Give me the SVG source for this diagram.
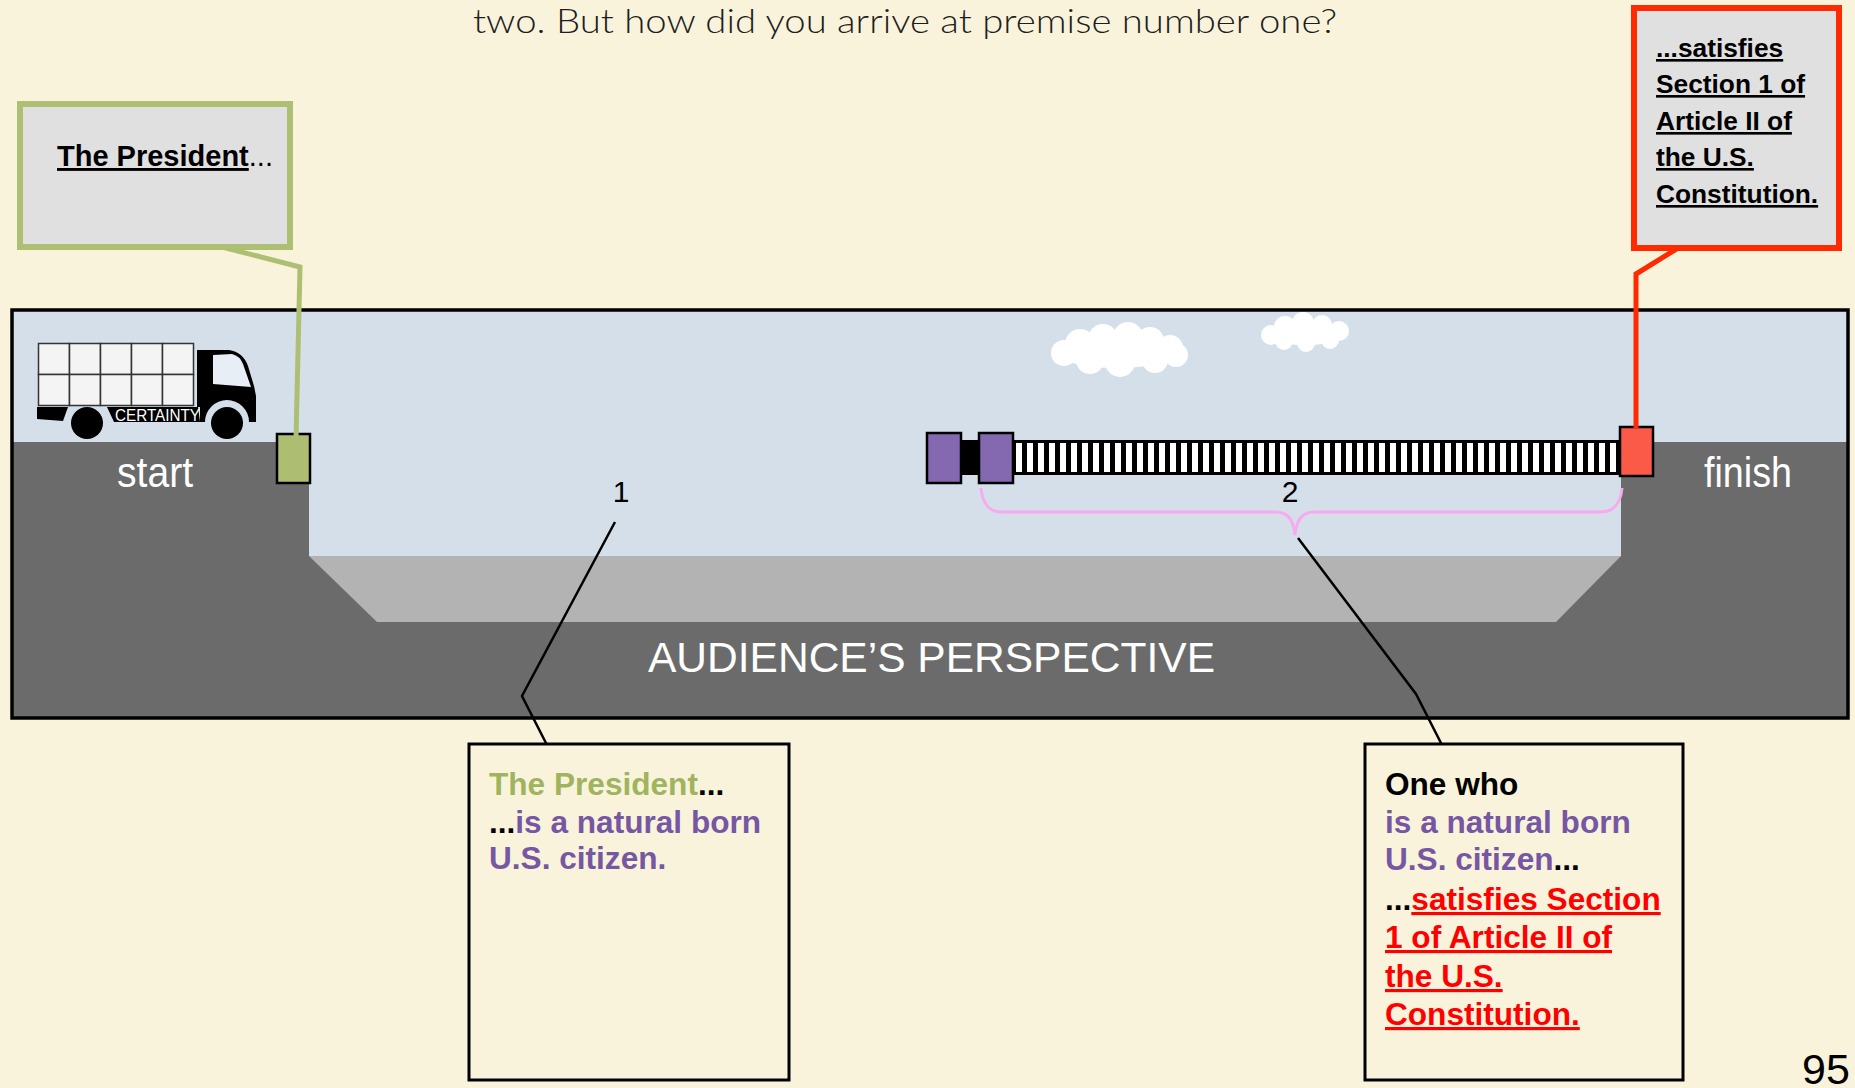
<svg xmlns="http://www.w3.org/2000/svg" width="1855" height="1088" viewBox="0 0 1855 1088">
  <defs>
    <style>
      .sans { font-family: "Liberation Sans", Arial, sans-serif; }
      .bold { font-family: "Liberation Sans", Arial, sans-serif; font-weight: bold; }
      .ul { text-decoration: underline; }
      .purple { fill: #7657a3; }
      .green { fill: #9fb45e; }
      .red { fill: #ff0000; }
      .blk { fill: #000; }
      .white { fill: #fff; }
      .conn { fill: none; stroke: #000; stroke-width: 2.5; stroke-linejoin: miter; }
      .box { fill: #faf3dc; stroke: #000; stroke-width: 3; }
      .callout { fill: #e0e0e0; stroke-width: 6; }
    </style>
    <pattern id="stripes" x="1016" y="0" width="11" height="1088" patternUnits="userSpaceOnUse">
      <rect x="0" y="0" width="6" height="1088" fill="#fff"/>
    </pattern>
  </defs>

  <!-- page -->
  <rect x="0" y="0" width="1855" height="1088" fill="#faf3dc"/>

  <!-- heading line -->
  <g id="title">
    <text x="473" y="33" font-family="Lato, 'Open Sans', sans-serif" font-weight="300" font-size="34" fill="#1e1e1e" textLength="864" lengthAdjust="spacingAndGlyphs">two. But how did you arrive at premise number one?</text>
  </g>

  <!-- landscape: sky, platforms, pit -->
  <g id="scene">
    <rect x="12" y="310" width="1836" height="408" fill="#d5dfea"/>
    <rect x="12" y="442" width="1836" height="276" fill="#6b6b6b"/>
    <rect x="309" y="440" width="1312" height="116" fill="#d5dfea"/>
    <polygon points="309,556 1621,556 1556,622 377,622" fill="#b3b3b3"/>
    <rect x="12" y="310" width="1836" height="408" fill="none" stroke="#000" stroke-width="3.5"/>
    <text class="sans white" x="117" y="487" font-size="42" textLength="76" lengthAdjust="spacingAndGlyphs">start</text>
    <text class="sans white" x="1704" y="487" font-size="42" textLength="88" lengthAdjust="spacingAndGlyphs">finish</text>
    <text class="sans white" x="648" y="672" font-size="42" textLength="567" lengthAdjust="spacingAndGlyphs">AUDIENCE’S PERSPECTIVE</text>
  </g>

  <!-- clouds -->
  <g id="clouds" fill="#fff">
    <ellipse cx="1117" cy="352" rx="62" ry="16"/>
    <circle cx="1064" cy="353" r="13"/>
    <circle cx="1080" cy="344" r="15"/>
    <circle cx="1103" cy="339" r="15"/>
    <circle cx="1128" cy="337" r="15"/>
    <circle cx="1150" cy="341" r="14"/>
    <circle cx="1170" cy="348" r="13"/>
    <circle cx="1176" cy="355" r="12"/>
    <circle cx="1155" cy="360" r="13"/>
    <circle cx="1120" cy="362" r="15"/>
    <circle cx="1090" cy="360" r="14"/>
    <ellipse cx="1305" cy="334" rx="40" ry="11"/>
    <circle cx="1271" cy="335" r="10"/>
    <circle cx="1285" cy="327" r="11"/>
    <circle cx="1303" cy="323" r="11"/>
    <circle cx="1322" cy="325" r="10"/>
    <circle cx="1339" cy="331" r="10"/>
    <circle cx="1330" cy="340" r="9"/>
    <circle cx="1306" cy="343" r="9"/>
    <circle cx="1284" cy="341" r="9"/>
  </g>

  <!-- certainty truck -->
  <g id="truck">
    <g fill="#f4f4f4" stroke="#333" stroke-width="1.5">
      <rect x="38.5" y="343.5" width="31" height="31"/>
      <rect x="69.5" y="343.5" width="31" height="31"/>
      <rect x="100.5" y="343.5" width="31" height="31"/>
      <rect x="131.5" y="343.5" width="31" height="31"/>
      <rect x="162.5" y="343.5" width="31" height="31"/>
      <rect x="38.5" y="374.5" width="31" height="31"/>
      <rect x="69.5" y="374.5" width="31" height="31"/>
      <rect x="100.5" y="374.5" width="31" height="31"/>
      <rect x="131.5" y="374.5" width="31" height="31"/>
      <rect x="162.5" y="374.5" width="31" height="31"/>
    </g>
    <path d="M37,407 L68,407 L63,421 L37,419 Z" fill="#000"/>
    <path d="M107,407 L198,407 L200,422 L114,422 Z" fill="#000"/>
    <path d="M197,350 L229,350 Q243,352 248,366 L254,386 L256,396 L256,422 L249,422 A22,22 0 0 0 205,422 L200,422 L200,407 L197,407 Z" fill="#000"/>
    <path d="M213,355 L232,354 Q240,356 243,364 L251,387 L213,384 Z" fill="#e8eef5"/>
    <circle cx="87" cy="423" r="16" fill="#000"/>
    <circle cx="227" cy="423" r="16" fill="#000"/>
    <text class="sans white" x="115" y="421" font-size="16" textLength="85" lengthAdjust="spacingAndGlyphs">CERTAINTY</text>
  </g>

  <!-- start marker -->
  <g id="start-marker">
    <rect x="277" y="434" width="33" height="49" fill="#adbd72" stroke="#000" stroke-width="2.5"/>
  </g>

  <!-- ladder bar with its two purple caps -->
  <g id="bar">
    <rect x="927" y="433" width="34" height="50" fill="#8468b0" stroke="#000" stroke-width="2.5"/>
    <rect x="961" y="440" width="20" height="35" fill="#000"/>
    <rect x="1013" y="440" width="608" height="35" fill="#000"/>
    <rect x="1016" y="443" width="602" height="29" fill="url(#stripes)"/>
    <rect x="979" y="433" width="34" height="50" fill="#8468b0" stroke="#000" stroke-width="2.5"/>
  </g>

  <!-- finish marker -->
  <g id="finish-marker">
    <rect x="1620" y="427" width="33" height="49" fill="#fb5a49" stroke="#000" stroke-width="2.5"/>
  </g>

  <!-- span brace for premise 2 -->
  <g id="brace">
    <path d="M981,488 Q983,512 1002,512 L1276,512 Q1293,512 1295,535 Q1297,512 1314,512 L1600,512 Q1620,512 1622,488" fill="none" stroke="#f7aaf0" stroke-width="3"/>
  </g>

  <!-- step numbers -->
  <g id="label-1">
    <text class="sans blk" x="621" y="502" font-size="30" text-anchor="middle">1</text>
  </g>
  <g id="label-2">
    <text class="sans blk" x="1290" y="502" font-size="30" text-anchor="middle">2</text>
  </g>

  <!-- callout: The President -->
  <g id="callout-president">
    <path d="M222,247 L300,267 L296,438" fill="none" stroke="#adbf72" stroke-width="5"/>
    <rect class="callout" x="20" y="104" width="270" height="143" stroke="#adbf72"/>
    <text class="bold blk" x="57" y="166" font-size="29"><tspan class="ul">The President</tspan><tspan font-weight="normal">...</tspan></text>
  </g>

  <!-- callout: satisfies Section 1 -->
  <g id="callout-satisfies">
    <path d="M1678,248 L1636,274 L1636,428" fill="none" stroke="#ff2a00" stroke-width="5"/>
    <rect class="callout" x="1634" y="8" width="205" height="240" stroke="#ff2a00" stroke-width="5"/>
    <g class="bold blk ul" font-size="26.3">
      <text x="1656" y="57">...satisfies</text>
      <text x="1656" y="93">Section 1 of</text>
      <text x="1656" y="130">Article II of</text>
      <text x="1656" y="166">the U.S.</text>
      <text x="1656" y="203">Constitution.</text>
    </g>
  </g>

  <!-- connectors from step numbers to premise boxes -->
  <g id="connectors">
    <polyline class="conn" points="615,522 522,696 548,747"/>
    <polyline class="conn" points="1298,538 1416,694 1443,747"/>
  </g>

  <!-- premise 1 -->
  <g id="box-premise-1">
    <rect class="box" x="469" y="744" width="320" height="336"/>
    <g class="bold" font-size="31.6">
      <text x="489" y="795"><tspan class="green">The President</tspan><tspan class="blk">...</tspan></text>
      <text x="489" y="833"><tspan class="blk">...</tspan><tspan class="purple">is a natural born</tspan></text>
      <text x="489" y="869" class="purple">U.S. citizen.</text>
    </g>
  </g>

  <!-- premise 2 -->
  <g id="box-premise-2">
    <rect class="box" x="1365" y="744" width="318" height="336"/>
    <g class="bold" font-size="31.6">
      <text x="1385" y="795" class="blk">One who</text>
      <text x="1385" y="833" class="purple">is a natural born</text>
      <text x="1385" y="870"><tspan class="purple">U.S. citizen</tspan><tspan class="blk">...</tspan></text>
      <text x="1385" y="910"><tspan class="blk">...</tspan><tspan class="red ul">satisfies Section</tspan></text>
      <text x="1385" y="948" class="red ul">1 of Article II of</text>
      <text x="1385" y="987" class="red ul">the U.S.</text>
      <text x="1385" y="1025" class="red ul">Constitution.</text>
    </g>
  </g>

  <!-- slide number -->
  <g id="page-number">
    <text class="sans blk" x="1802" y="1084" font-size="43">95</text>
  </g>
</svg>
